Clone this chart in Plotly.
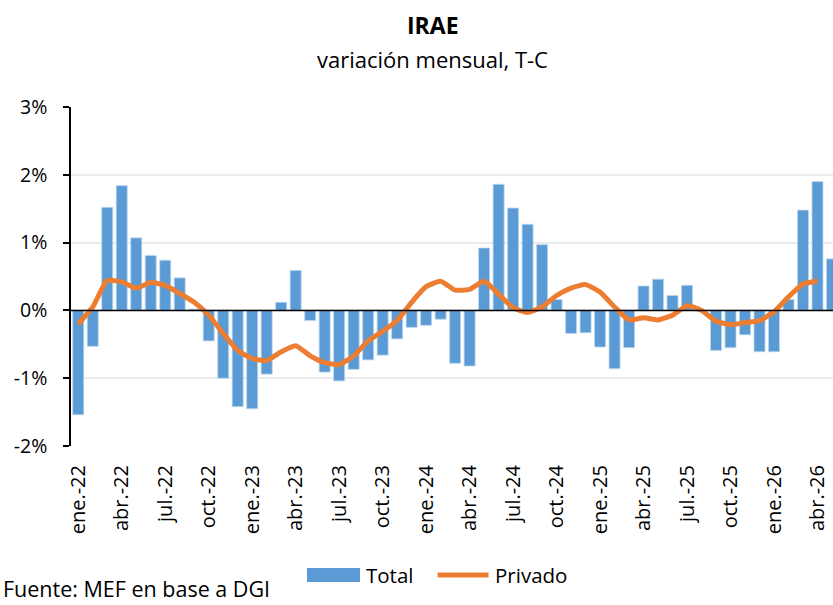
import plotly.graph_objects as go

month_names = ["ene", "feb", "mar", "abr", "may", "jun", "jul", "ago", "sep", "oct", "nov", "dic"]
years = ["22", "23", "24", "25", "26"]
months = [f"{m}.-{y}" for y in years for m in month_names][:53]

total = [
    -1.54, -0.53, 1.52, 1.84, 1.07, 0.81, 0.74, 0.48, 0.02, -0.45, -1.00, -1.42,
    -1.45, -0.94, 0.12, 0.59, -0.15, -0.91, -1.04, -0.87, -0.73, -0.66, -0.42, -0.25,
    -0.22, -0.13, -0.78, -0.82, 0.92, 1.86, 1.51, 1.27, 0.97, 0.16, -0.34, -0.33,
    -0.54, -0.86, -0.55, 0.36, 0.46, 0.22, 0.37, -0.01, -0.59, -0.55, -0.36, -0.61,
    -0.61, 0.16, 1.48, 1.90, 0.76,
]

privado = [
    -0.20, 0.05, 0.44, 0.42, 0.33, 0.41, 0.37, 0.25, 0.12, -0.07, -0.34, -0.59,
    -0.71, -0.74, -0.61, -0.52, -0.67, -0.77, -0.80, -0.67, -0.45, -0.31, -0.15, 0.12,
    0.35, 0.43, 0.30, 0.31, 0.43, 0.24, 0.04, -0.03, 0.05, 0.22, 0.33, 0.38,
    0.27, 0.05, -0.14, -0.11, -0.14, -0.07, 0.07, 0.00, -0.16, -0.21, -0.18, -0.15,
    -0.02, 0.20, 0.39, 0.43, None,
]

tick_labels = months[::3]
y_ticks = [-2, -1, 0, 1, 2, 3]
y_tick_text = ["-2%", "-1%", "0%", "1%", "2%", "3%"]

FONT = "Open Sans"
BLUE = "#5B9BD5"
ORANGE = "#ED7D31"

fig = go.Figure()
fig.add_trace(go.Bar(
    x=months, y=total, name="Total",
    marker=dict(color=BLUE, line=dict(color="#BDD7EE", width=0.8)),
    width=0.76,
))
fig.add_trace(go.Scatter(
    x=months, y=privado, name="Privado", mode="lines",
    line=dict(color=ORANGE, width=5, shape="spline", smoothing=0.5),
    connectgaps=False,
))

# horizontal axis line at 0, drawn above the bars
fig.add_shape(type="line", xref="paper", yref="y", x0=0, x1=1, y0=0, y1=0,
              line=dict(color="black", width=1.5), layer="above")

# legend drawn manually (wide swatches like the original)
fig.add_shape(type="rect", xref="paper", yref="paper",
              x0=0.3097, x1=0.3793, y0=-0.4012, y1=-0.3599,
              fillcolor=BLUE, line=dict(width=0))
fig.add_shape(type="line", xref="paper", yref="paper",
              x0=0.481, x1=0.548, y0=-0.3805, y1=-0.3805,
              line=dict(color=ORANGE, width=5))

fig.update_layout(
    width=833, height=605,
    margin=dict(l=71, r=0, t=107, b=159, autoexpand=False),
    paper_bgcolor="white", plot_bgcolor="white",
    font=dict(family=FONT, size=20, color="black"),
    showlegend=False,
    bargap=0.24,
    annotations=[
        dict(text="<b>IRAE</b>", x=0.475, y=1.2419, xref="paper", yref="paper",
             xanchor="center", yanchor="middle", showarrow=False, font=dict(size=23)),
        dict(text="variación mensual, T-C", x=0.475, y=1.1416, xref="paper", yref="paper",
             xanchor="center", yanchor="middle", showarrow=False, font=dict(size=22)),
        dict(text="Total", x=0.3845, y=-0.3805, xref="paper", yref="paper",
             xanchor="left", yanchor="middle", showarrow=False, font=dict(size=20.5)),
        dict(text="Privado", x=0.5538, y=-0.3805, xref="paper", yref="paper",
             xanchor="left", yanchor="middle", showarrow=False, font=dict(size=20.5)),
        dict(text="Fuente: MEF en base a DGI", x=-0.0919, y=-0.469, xref="paper", yref="paper",
             xanchor="left", yanchor="bottom", showarrow=False, font=dict(size=21.5)),
    ],
)

fig.update_xaxes(
    type="category", range=[-0.5, 52.07], automargin=False,
    tickmode="array", tickvals=tick_labels, ticktext=tick_labels,
    tickangle=-90, ticks="", showgrid=False, showline=False,
    ticklabelstandoff=14, tickfont=dict(size=20),
)
fig.update_yaxes(
    range=[-2, 3], automargin=False,
    tickmode="array", tickvals=y_ticks, ticktext=y_tick_text,
    showgrid=True, gridcolor="#EBEBEB", gridwidth=1.5,
    zeroline=False,
    showline=True, linecolor="black", linewidth=1.5,
    ticks="outside", ticklen=6, tickcolor="black", tickwidth=1.5,
    ticklabelstandoff=12, tickfont=dict(size=19.5),
)

fig.write_html(
    "out.html",
    config={"displayModeBar": False},
    post_script="document.body.style.margin='0';document.body.style.overflow='hidden';",
)
